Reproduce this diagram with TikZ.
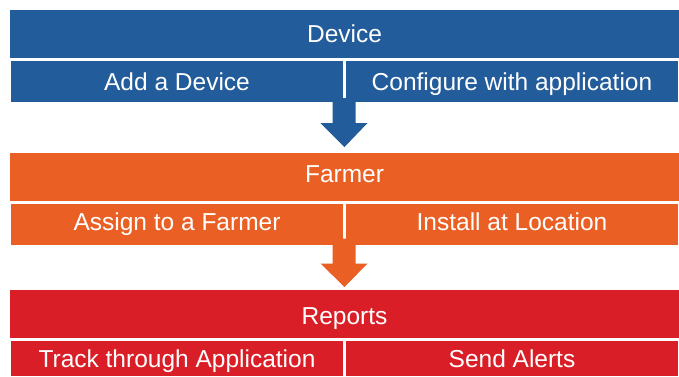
\documentclass[tikz,border=0pt]{standalone}
\usepackage{fontspec}
\setmainfont{Liberation Sans}
\usetikzlibrary{calc}
\definecolor{bluec}{RGB}{34,92,155}
\definecolor{orangec}{RGB}{234,96,36}
\definecolor{redc}{RGB}{218,30,39}
\begin{document}
\begin{tikzpicture}[x=1pt,y=-1pt,
  box/.style={rectangle,anchor=north west,inner sep=0pt,outer sep=0pt,text=white,
    font=\fontsize{24.5}{28}\selectfont,text height=17.5pt,text depth=0pt},
  bar/.style={box,minimum width=669pt,minimum height=48pt},
  cell/.style={box,minimum width=332pt,minimum height=41pt},
  up/.style={text depth=#1},
  down/.style={text height=#1}]
\useasboundingbox (0,0) rectangle (679,376);
\fill[white] (0,0) rectangle (679,376);
% Device
\node[bar,fill=bluec] (dev) at (10,10) {Device};
\node[cell,fill=bluec] (devA) at (11,61) {Add a Device};
\node[cell,fill=bluec] (devB) at (346,61) {Configure with application};
% Farmer
\node[bar,fill=orangec,up=6pt] (far) at (10,153) {Farmer};
\node[cell,fill=orangec,up=4pt] (farA) at (11,203.5) {Assign to a Farmer};
\node[cell,fill=orangec,up=4pt] (farB) at (346,203.5) {Install at Location};
% Reports
\node[bar,fill=redc,down=21.5pt] (rep) at (10,290) {Reports};
\node[cell,fill=redc,minimum height=35pt] (repA) at (11,341) {Track through Application};
\node[cell,fill=redc,minimum height=35pt] (repB) at (346,341) {Send Alerts};
% arrows
\coordinate (t1) at ($(far.north)+(0,-6)$);
\fill[bluec] ($(devB.south west)+(-13.5,-4)$) -- ++(23,0) -- ++(0,25) -- ++(12,0)
  -- (t1) -- ($(devB.south west)+(-25.5,21)$) -- ++(12,0) -- cycle;
\coordinate (t2) at ($(rep.north)+(0,-3)$);
\fill[orangec] ($(farB.south west)+(-13.5,-6)$) -- ++(23,0) -- ++(0,25) -- ++(12,0)
  -- (t2) -- ($(farB.south west)+(-25.5,19)$) -- ++(12,0) -- cycle;
\end{tikzpicture}
\end{document}
